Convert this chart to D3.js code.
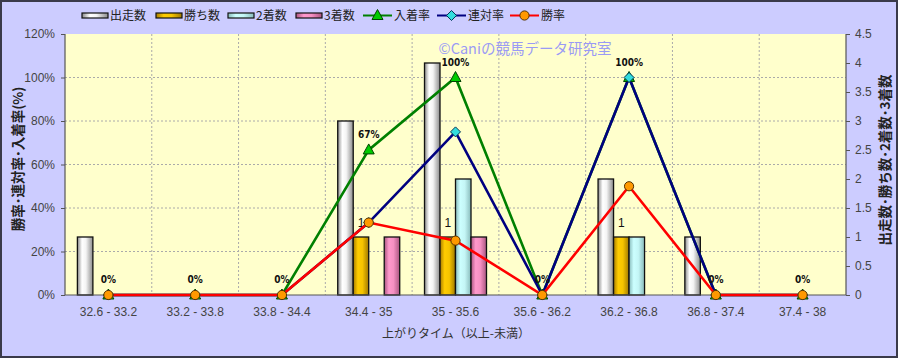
<!DOCTYPE html>
<html><head><meta charset="utf-8">
<script src="https://cdn.jsdelivr.net/npm/d3@7"></script>
<style>
html,body{margin:0;padding:0;background:#fff;}
svg{display:block;font-family:"Noto Sans CJK JP","Noto Sans",sans-serif;}
</style></head>
<body><svg id="c" width="898" height="358"></svg>
<script>
const categories = ["32.6 - 33.2","33.2 - 33.8","33.8 - 34.4","34.4 - 35","35 - 35.6","35.6 - 36.2","36.2 - 36.8","36.8 - 37.4","37.4 - 38"];
const runs   = [1,0,0,3,4,0,2,1,0];   // 出走数
const wins   = [0,0,0,1,1,0,1,0,0];   // 勝ち数
const second = [0,0,0,0,2,0,1,0,0];   // 2着数
const third  = [0,0,0,1,1,0,0,0,0];   // 3着数
const placeRate = [0,0,0,66.7,100,0,100,0,0]; // 入着率
const rentaiRate = [0,0,0,33.3,75,0,100,0,0]; // 連対率
const winRate = [0,0,0,33.3,25,0,50,0,0];     // 勝率
const leftTicks = [0,20,40,60,80,100,120];
const rightTicks = [0,0.5,1,1.5,2,2.5,3,3.5,4,4.5];

const svg = d3.select("#c");
const W=898,H=358;
const m={l:65,r:846,t:34,b:295};
const defs = svg.append("defs");
function grad(id, stops){
  const g=defs.append("linearGradient").attr("id",id).attr("x1","0%").attr("x2","100%").attr("y1","0%").attr("y2","0%");
  stops.forEach(s=>g.append("stop").attr("offset",s[0]).attr("stop-color",s[1]));
}
grad("gRun",[["0%","#8a8a8a"],["30%","#ffffff"],["55%","#f4f4f4"],["100%","#8c8c8c"]]);
grad("gWin",[["0%","#a87c00"],["30%","#ffcc00"],["60%","#f5c400"],["100%","#a07800"]]);
grad("gSec",[["0%","#88bbbb"],["30%","#ccffff"],["60%","#c4f6f6"],["100%","#88bbbb"]]);
grad("gThi",[["0%","#aa5580"],["30%","#ff99cc"],["60%","#f590c2"],["100%","#aa5580"]]);

// background
svg.append("rect").attr("x",0).attr("y",0).attr("width",W).attr("height",H).attr("fill","#ccccff");
svg.append("rect").attr("x",1).attr("y",1).attr("width",W-2).attr("height",H-2).attr("fill","none").attr("stroke","#3a3a4a").attr("stroke-width",2);
svg.append("rect").attr("x",m.l).attr("y",m.t).attr("width",m.r-m.l).attr("height",m.b-m.t).attr("fill","#ffffcc");

const x = d3.scaleBand().domain(categories).range([m.l,m.r]).paddingInner(0).paddingOuter(0);
const yL = d3.scaleLinear().domain([0,120]).range([m.b,m.t]);
const yR = d3.scaleLinear().domain([0,4.5]).range([m.b,m.t]);

// grid
const grid=svg.append("g");
leftTicks.slice(1,-1).forEach(t=>grid.append("line").attr("x1",m.l).attr("x2",m.r).attr("y1",yL(t)).attr("y2",yL(t)).attr("stroke","#aaaaaa").attr("stroke-dasharray","2,2"));
categories.slice(1).forEach(c=>grid.append("line").attr("x1",x(c)).attr("x2",x(c)).attr("y1",m.t).attr("y2",m.b).attr("stroke","#aaaaaa").attr("stroke-dasharray","2,2"));

// watermark
svg.append("text").attr("x",525).attr("y",54).attr("text-anchor","middle").attr("font-size",14.5).attr("fill","#9a9af5").text("©Caniの競馬データ研究室");

// bars
const bw=15.5;
const sub = d3.scaleBand().domain([0,1,2,3]).range([0,bw*4]);
const series=[[runs,"gRun"],[wins,"gWin"],[second,"gSec"],[third,"gThi"]];
const bars=svg.append("g");
series.forEach((s,si)=>{
  s[0].forEach((v,i)=>{
    if(v<=0) return;
    const bx = x(categories[i]) + x.bandwidth()/2 - bw*2 + sub(si);
    bars.append("rect").attr("x",bx).attr("y",yR(v)).attr("width",bw).attr("height",yR(0)-yR(v))
      .attr("fill",`url(#${s[1]})`).attr("stroke","#111").attr("stroke-width",1.3);
  });
});
// win count labels
wins.forEach((v,i)=>{
  if(v<=0) return;
  const bx = x(categories[i]) + x.bandwidth()/2 - bw*2 + sub(1) + bw/2;
  svg.append("text").attr("x",bx).attr("y",yR(v)-10).attr("text-anchor","middle").attr("font-size",12).attr("fill","#111").attr("font-family","Liberation Sans, Arial, sans-serif").text(v);
});

// axes frame
svg.append("line").attr("x1",m.l).attr("x2",m.l).attr("y1",m.t).attr("y2",m.b).attr("stroke","#555").attr("stroke-width",1.2);
svg.append("line").attr("x1",m.r).attr("x2",m.r).attr("y1",m.t).attr("y2",m.b).attr("stroke","#555").attr("stroke-width",1.2);
svg.append("line").attr("x1",m.l).attr("x2",m.r).attr("y1",m.b).attr("y2",m.b).attr("stroke","#555").attr("stroke-width",1.2);

const axL = d3.axisLeft(yL).tickValues(leftTicks).tickFormat(d=>d+"%").tickSize(4).tickPadding(6);
const gL = svg.append("g").attr("transform",`translate(${m.l},0)`).call(axL);
const axR = d3.axisRight(yR).tickValues(rightTicks).tickFormat(d=>d).tickSize(4).tickPadding(5);
const gR = svg.append("g").attr("transform",`translate(${m.r},0)`).call(axR);
const axB = d3.axisBottom(x).tickSize(0).tickPadding(12);
const gB = svg.append("g").attr("transform",`translate(0,${m.b})`).call(axB);
[gL,gR,gB].forEach(g=>{
  g.select(".domain").remove();
  g.selectAll("line").attr("stroke","#555");
  g.selectAll("text").attr("font-size",12).attr("fill","#444").attr("font-family","Liberation Sans, Arial, sans-serif");
});

// lines
const lineSeries=[
  {vals:placeRate,color:"#008000",marker:"tri",fill:"#00cc00"},
  {vals:rentaiRate,color:"#000080",marker:"dia",fill:"#33dddd"},
  {vals:winRate,color:"#ff0000",marker:"cir",fill:"#ff9900"}
];
const line=d3.line().x((d,i)=>x(categories[i])+x.bandwidth()/2).y(d=>yL(d));
lineSeries.forEach(s=>{
  svg.append("path").attr("d",line(s.vals)).attr("fill","none").attr("stroke",s.color).attr("stroke-width",2.6);
});
function marker(g,type,cx,cy,fill){
  if(type==="tri") g.append("path").attr("d",`M${cx},${cy-6}L${cx+5.5},${cy+4}L${cx-5.5},${cy+4}Z`).attr("fill",fill).attr("stroke","#004400").attr("stroke-width",1);
  else if(type==="dia") g.append("path").attr("d",`M${cx},${cy-5}L${cx+5},${cy}L${cx},${cy+5}L${cx-5},${cy}Z`).attr("fill",fill).attr("stroke","#003355").attr("stroke-width",1);
  else g.append("circle").attr("cx",cx).attr("cy",cy).attr("r",4.6).attr("fill",fill).attr("stroke","#553300").attr("stroke-width",1);
}
lineSeries.forEach(s=>{
  const g=svg.append("g");
  s.vals.forEach((v,i)=>marker(g,s.marker,x(categories[i])+x.bandwidth()/2,yL(v),s.fill));
});
// rate labels
placeRate.forEach((v,i)=>{
  svg.append("text").attr("x",x(categories[i])+x.bandwidth()/2).attr("y",yL(v)-12).attr("text-anchor","middle")
    .attr("font-size",10).attr("font-weight","bold").attr("fill","#111").attr("font-family","DejaVu Sans Condensed, DejaVu Sans, sans-serif")
    .text(Math.round(v)+"%");
});

// axis titles
svg.append("text").attr("transform","translate(23,159) rotate(-90)").attr("text-anchor","middle").attr("font-size",13.5).attr("fill","#222").attr("font-weight","bold").text("勝率･連対率･入着率(%)");
svg.append("text").attr("transform","translate(890,160) rotate(-90)").attr("text-anchor","middle").attr("font-size",13.5).attr("fill","#222").attr("font-weight","bold").text("出走数･勝ち数･2着数･3着数");
svg.append("text").attr("x",456).attr("y",338).attr("text-anchor","middle").attr("font-size",12).attr("fill","#333").text("上がりタイム（以上-未満）");

// legend
const legend=[
  {label:"出走数",type:"bar",g:"gRun",x:82},
  {label:"勝ち数",type:"bar",g:"gWin",x:156},
  {label:"2着数",type:"bar",g:"gSec",x:228},
  {label:"3着数",type:"bar",g:"gThi",x:296},
  {label:"入着率",type:"line",s:lineSeries[0],x:363},
  {label:"連対率",type:"line",s:lineSeries[1],x:437},
  {label:"勝率",type:"line",s:lineSeries[2],x:510}
];
const lg=svg.append("g");
legend.forEach(d=>{
  if(d.type==="bar"){
    lg.append("rect").attr("x",d.x).attr("y",13).attr("width",26).attr("height",5).attr("fill",`url(#${d.g})`).attr("stroke","#111").attr("stroke-width",1.2);
  } else {
    lg.append("line").attr("x1",d.x).attr("x2",d.x+29).attr("y1",15.5).attr("y2",15.5).attr("stroke",d.s.color).attr("stroke-width",2);
    marker(lg,d.s.marker,d.x+14.5,15.5,d.s.fill);
  }
  lg.append("text").attr("x",d.x+(d.type==="bar"?28:31)).attr("y",20).attr("font-size",12).attr("fill","#222").text(d.label);
});
</script></body></html>
